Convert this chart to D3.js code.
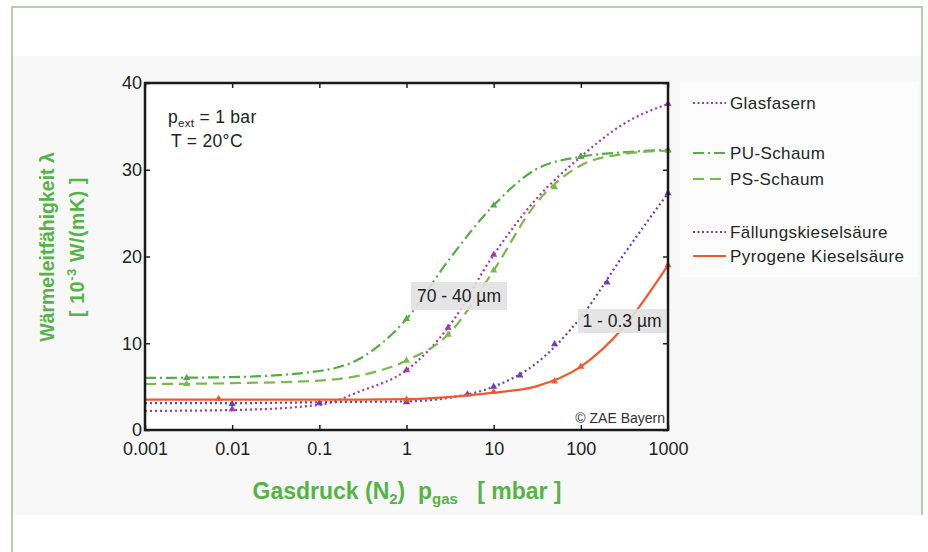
<!DOCTYPE html>
<html>
<head>
<meta charset="utf-8">
<script src="https://cdn.jsdelivr.net/npm/d3@7"></script>
<style>
  body { margin: 0; background: #fff; }
  text { font-family: "Liberation Sans", Arial, sans-serif; }
</style>
</head>
<body>
<div id="chart"></div>
<script>
// pressure grid (mbar) shared by all curves
const pressure = [0.001, 0.01, 0.1, 0.3, 1, 3, 10, 30, 100, 300, 1000];

// thermal conductivity, 10^-3 W/(mK)
const glasfasern = [2.2, 2.3, 2.9, 4.5, 6.9, 11.8, 20.2, 26.5, 31.5, 35.2, 37.6];
const puSchaum   = [6.0, 6.1, 6.8, 8.3, 12.8, 19.5, 25.9, 30.0, 31.5, 32.0, 32.3];
const psSchaum   = [5.3, 5.4, 5.7, 6.3, 8.0, 11.0, 18.4, 26.0, 30.5, 31.8, 32.2];
const faellung   = [3.1, 3.1, 3.2, 3.25, 3.3, 3.7, 5.0, 7.6, 13.0, 20.0, 27.3];
const pyrogen    = [3.5, 3.5, 3.5, 3.5, 3.55, 3.8, 4.3, 5.0, 7.3, 11.7, 19.0];

// measured points (markers)
const glasMarkP = [0.01, 1, 3, 10, 100, 1000];
const glasMarkV = [2.4, 6.9, 11.8, 20.2, 31.5, 37.6];
const puMarkP   = [0.003, 1, 10, 100, 1000];
const puMarkV   = [6.0, 12.8, 25.9, 31.5, 32.3];
const psMarkP   = [0.003, 1, 3, 10, 50, 1000];
const psMarkV   = [5.3, 8.0, 11.0, 18.4, 28.0, 32.2];
const faelMarkP = [0.01, 0.1, 1, 5, 10, 20, 50, 200, 1000];
const faelMarkV = [3.0, 3.1, 3.2, 4.1, 5.0, 6.3, 9.9, 17.0, 27.3];
const pyroMarkP = [0.007, 1, 10, 50, 100, 1000];
const pyroMarkV = [3.6, 3.5, 4.4, 5.6, 7.3, 19.0];

const xTicks = [0.001, 0.01, 0.1, 1, 10, 100, 1000];
const xTickLabels = ["0.001", "0.01", "0.1", "1", "10", "100", "1000"];
const yTicks = [0, 10, 20, 30, 40];

const series = [
  { name: "Glasfasern", values: glasfasern, mp: glasMarkP, mv: glasMarkV, color: "#a23aa6", dash: "2,3", ly: 103 },
  { name: "PU-Schaum", values: puSchaum, mp: puMarkP, mv: puMarkV, color: "#52ad45", dash: "11,4,2,4", ly: 153 },
  { name: "PS-Schaum", values: psSchaum, mp: psMarkP, mv: psMarkV, color: "#7ab94c", dash: "11,6", ly: 179 },
  { name: "Fällungskieselsäure", values: faellung, mp: faelMarkP, mv: faelMarkV, color: "#6a3fbf", dash: "2,3", ly: 232 },
  { name: "Pyrogene Kieselsäure", values: pyrogen, mp: pyroMarkP, mv: pyroMarkV, color: "#f0592a", dash: null, ly: 256 }
];

const width = 928, height = 552;
const svg = d3.select("#chart").append("svg")
  .attr("width", width)
  .attr("height", height);

// outer frame and light panel
svg.append("rect").attr("x", 12).attr("y", 56).attr("width", 910).attr("height", 459).attr("fill", "#f8f8f8");
svg.append("path")
  .attr("d", "M12,552 V7 H922 V515")
  .attr("fill", "none").attr("stroke", "#b9cbb3").attr("stroke-width", 2);
svg.append("rect").attr("x", 680).attr("y", 82).attr("width", 238).attr("height", 195).attr("fill", "#fcfcfc");

const x = d3.scaleLog().domain([0.001, 1000]).range([145, 668]);
const y = d3.scaleLinear().domain([0, 40]).range([430, 83]);

svg.append("rect")
  .attr("x", x(0.001)).attr("y", y(40))
  .attr("width", x(1000) - x(0.001)).attr("height", y(0) - y(40))
  .attr("fill", "#fff");

// axes: ticks point inward
const axisFont = g => g.selectAll("text").attr("font-size", 18).attr("fill", "#222");

svg.append("g")
  .attr("transform", `translate(0,${y(0)})`)
  .call(d3.axisBottom(x).tickValues(xTicks).tickFormat((d, i) => xTickLabels[i]).tickSizeInner(-5).tickSizeOuter(0).tickPadding(12))
  .call(axisFont)
  .call(g => g.select(".domain").remove());

svg.append("g")
  .attr("transform", `translate(0,${y(40)})`)
  .call(d3.axisTop(x).tickValues(xTicks).tickFormat("").tickSizeInner(-5).tickSizeOuter(0))
  .call(g => g.select(".domain").remove());

svg.append("g")
  .attr("transform", `translate(${x(0.001)},0)`)
  .call(d3.axisLeft(y).tickValues(yTicks).tickSizeInner(-5).tickSizeOuter(0).tickPadding(3))
  .call(axisFont)
  .call(g => g.select(".domain").remove());

svg.append("g")
  .attr("transform", `translate(${x(1000)},0)`)
  .call(d3.axisRight(y).tickValues(yTicks).tickFormat("").tickSizeInner(-5).tickSizeOuter(0))
  .call(g => g.select(".domain").remove());

svg.selectAll(".tick line").attr("stroke", "#222").attr("stroke-width", 1.5);

// curves
const line = d3.line()
  .x(d => x(d[0]))
  .y(d => y(d[1]))
  .curve(d3.curveMonotoneX);

const plot = svg.append("g");
series.forEach(s => {
  plot.append("path")
    .datum(pressure.map((p, i) => [p, s.values[i]]))
    .attr("d", line)
    .attr("fill", "none")
    .attr("stroke", s.color)
    .attr("stroke-width", 2.2)
    .attr("stroke-dasharray", s.dash);
  plot.selectAll(null)
    .data(s.mp.map((p, i) => [p, s.mv[i]]))
    .join("path")
    .attr("transform", d => `translate(${x(d[0])},${y(d[1])})`)
    .attr("d", d3.symbol(d3.symbolTriangle, 22))
    .attr("fill", s.color);
});

// frame
svg.append("rect")
  .attr("x", x(0.001)).attr("y", y(40))
  .attr("width", x(1000) - x(0.001)).attr("height", y(0) - y(40))
  .attr("fill", "none").attr("stroke", "#1a1a1a").attr("stroke-width", 2.5);

// legend
const legend = svg.append("g");
series.forEach(s => {
  legend.append("line")
    .attr("x1", 693).attr("x2", 726).attr("y1", s.ly).attr("y2", s.ly)
    .attr("stroke", s.color).attr("stroke-width", 2.2)
    .attr("stroke-dasharray", s.dash ? (s.dash === "2,3" ? "2,2.5" : s.dash) : null);
  legend.append("text")
    .attr("x", 730).attr("y", s.ly + 6)
    .attr("font-size", 17).attr("letter-spacing", 0.4).attr("fill", "#262626")
    .text(s.name);
});

// conditions
const cond = svg.append("text").attr("x", 168).attr("y", 123).attr("font-size", 17.5).attr("letter-spacing", 0.3).attr("fill", "#222");
cond.append("tspan").text("p");
cond.append("tspan").attr("font-size", 11.5).attr("dy", 4).text("ext");
cond.append("tspan").attr("dy", -4).text(" = 1 bar");
svg.append("text").attr("x", 171).attr("y", 147).attr("font-size", 17.5).attr("letter-spacing", 0.3).attr("fill", "#222").text("T = 20°C");

// particle-size labels
const tags = [
  { text: "70 - 40 µm", cx: 459, cy: 296, w: 96, h: 28 },
  { text: "1 - 0.3 µm", cx: 622, cy: 321, w: 88, h: 24 }
];
tags.forEach(t => {
  svg.append("rect")
    .attr("x", t.cx - t.w / 2).attr("y", t.cy - t.h / 2)
    .attr("width", t.w).attr("height", t.h)
    .attr("fill", "#e1e1e1").attr("opacity", 0.9);
  svg.append("text")
    .attr("x", t.cx).attr("y", t.cy + 6)
    .attr("text-anchor", "middle").attr("font-size", 17.5).attr("fill", "#222")
    .text(t.text);
});

svg.append("text")
  .attr("x", 665).attr("y", 423)
  .attr("text-anchor", "end").attr("font-size", 14).attr("fill", "#333")
  .text("© ZAE Bayern");

// axis titles
const green = "#55b348";
const yt = svg.append("g").attr("transform", "translate(54,247) rotate(-90)");
yt.append("text").attr("text-anchor", "middle").attr("font-size", 19.5).attr("font-weight", "bold").attr("fill", green)
  .text("Wärmeleitfähigkeit λ");
const yt2 = yt.append("text").attr("y", 30).attr("text-anchor", "middle").attr("font-size", 19.5).attr("font-weight", "bold").attr("fill", green).attr("letter-spacing", 0.6);
yt2.append("tspan").text("[ 10");
yt2.append("tspan").attr("font-size", 13).attr("dy", -8).text("-3");
yt2.append("tspan").attr("dy", 8).text(" W/(mK) ]");

const xt = svg.append("text").attr("x", 407).attr("y", 499).attr("text-anchor", "middle")
  .attr("font-size", 23).attr("font-weight", "bold").attr("fill", green).attr("xml:space", "preserve");
xt.append("tspan").text("Gasdruck (N");
xt.append("tspan").attr("font-size", 15).attr("dy", 5).text("2");
xt.append("tspan").attr("dy", -5).text(")  p");
xt.append("tspan").attr("font-size", 15).attr("dy", 5).text("gas");
xt.append("tspan").attr("dy", -5).text("   [ mbar ]");
</script>
</body>
</html>
